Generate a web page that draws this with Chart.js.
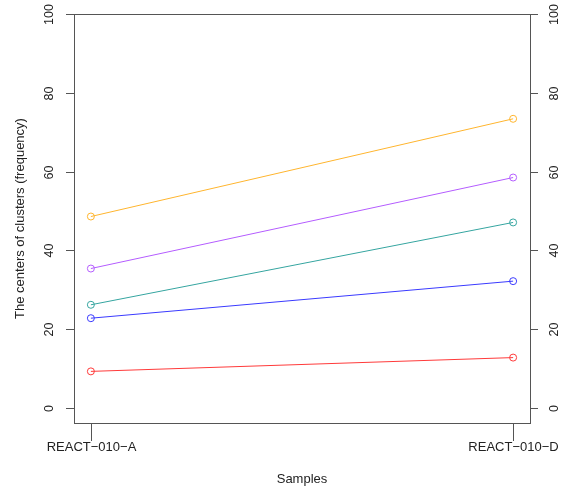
<!DOCTYPE html>
<html>
<head>
<meta charset="utf-8">
<script src="https://cdn.jsdelivr.net/npm/chart.js@4/dist/chart.umd.min.js"></script>
<style>
  html, body { margin: 0; padding: 0; background: #fff; }
  #wrap { width: 571px; height: 495px; }
</style>
</head>
<body>
<div id="wrap"><canvas id="grafico" width="571" height="495"></canvas></div>
<script>
// categorias y valores
const muestras = ['REACT\u2212010\u2212A', 'REACT\u2212010\u2212D'];
const serieNaranja = [48.6, 73.4];
const serieMorada = [35.4, 58.5];
const serieVerde = [26.2, 47.1];
const serieAzul = [22.8, 32.2];
const serieRoja = [9.3, 12.8];
const ticksY = [0, 20, 40, 60, 80, 100];

const colores = ['#FFB52E', '#B45CFF', '#35A5A0', '#3A3AFF', '#FF3A3A'];
const series = [serieNaranja, serieMorada, serieVerde, serieAzul, serieRoja];

function armarDatos(valores) {
    return valores.map((v, i) => ({ x: i, y: v }));
}

// dibuja caja, marcas y textos al estilo de R
const ejesR = {
    id: 'ejesR',
    afterDraw(chart) {
        const ctx = chart.ctx;
        const area = chart.chartArea;
        const sx = chart.scales.x;
        const sy = chart.scales.y;
        ctx.save();
        ctx.strokeStyle = '#555';
        ctx.lineWidth = 1;
        ctx.strokeRect(Math.round(area.left) + 0.5, Math.round(area.top) + 0.5,
            Math.round(area.right - area.left), Math.round(area.bottom - area.top));

        ctx.fillStyle = '#222';
        ctx.font = '12.5px "Liberation Sans", Arial, sans-serif';
        ctx.textAlign = 'center';
        ctx.textBaseline = 'middle';

        ticksY.forEach(v => {
            const py = Math.round(sy.getPixelForValue(v)) + 0.5;
            ctx.beginPath();
            ctx.moveTo(area.left - 8, py);
            ctx.lineTo(area.left, py);
            ctx.moveTo(area.right, py);
            ctx.lineTo(area.right + 8, py);
            ctx.stroke();
            ctx.save();
            ctx.translate(area.left - 24, py);
            ctx.rotate(-Math.PI / 2);
            ctx.fillText(String(v), 0, 0);
            ctx.restore();
            ctx.save();
            ctx.translate(area.right + 25, py);
            ctx.rotate(-Math.PI / 2);
            ctx.fillText(String(v), 0, 0);
            ctx.restore();
        });

        ctx.font = '13px "Liberation Sans", Arial, sans-serif';
        muestras.forEach((m, i) => {
            const px = Math.round(sx.getPixelForValue(i)) + 0.5;
            ctx.beginPath();
            ctx.moveTo(px, area.bottom);
            ctx.lineTo(px, area.bottom + 18);
            ctx.stroke();
            ctx.fillText(m, px, area.bottom + 24);
        });

        ctx.fillText('Samples', (area.left + area.right) / 2, 479);
        ctx.save();
        ctx.translate(20, (area.top + area.bottom) / 2);
        ctx.rotate(-Math.PI / 2);
        ctx.fillText('The centers of clusters (frequency)', 0, 0);
        ctx.restore();
        ctx.restore();
    }
};

const ctx = document.getElementById('grafico').getContext('2d');
new Chart(ctx, {
    type: 'line',
    data: {
        datasets: series.map((s, i) => ({
            data: armarDatos(s),
            borderColor: colores[i],
            borderWidth: 1,
            pointRadius: 3.5,
            pointBorderWidth: 1,
            pointBorderColor: colores[i],
            pointBackgroundColor: 'rgba(0,0,0,0)',
            tension: 0
        }))
    },
    options: {
        responsive: false,
        animation: false,
        layout: { padding: { left: 74, right: 41, top: 14, bottom: 72 } },
        plugins: { legend: { display: false }, tooltip: { enabled: false } },
        scales: {
            x: { type: 'linear', min: -0.04, max: 1.04, display: false },
            y: { min: -3.8, max: 100, display: false }
        }
    },
    plugins: [ejesR]
});
</script>
</body>
</html>
